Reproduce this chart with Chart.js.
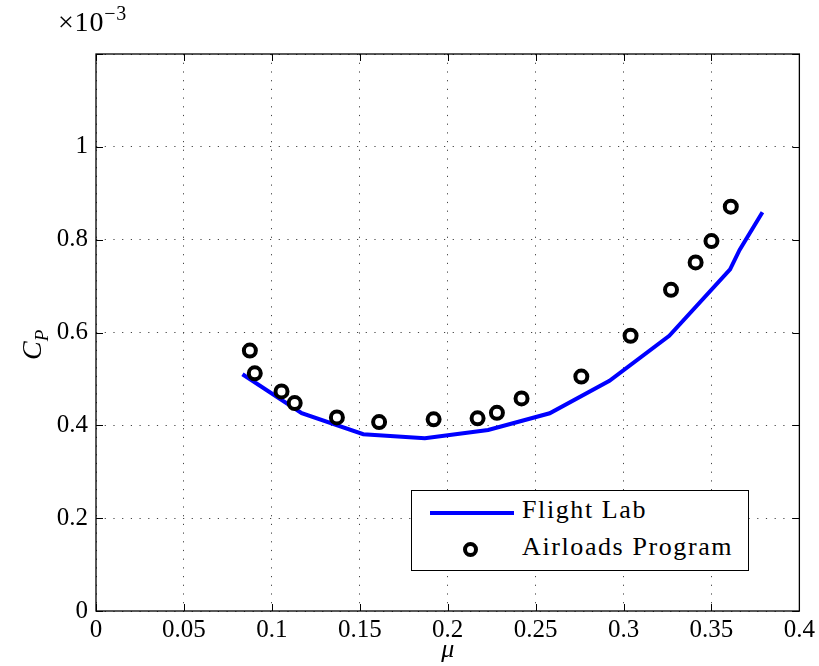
<!DOCTYPE html>
<html>
<head>
<meta charset="utf-8">
<script src="https://cdn.jsdelivr.net/npm/chart.js@4/dist/chart.umd.min.js"></script>
<style>
  html, body { margin:0; padding:0; background:#fff; }
  #wrap { position:relative; width:819px; height:666px; font-family:"Liberation Serif","DejaVu Serif",serif; color:#000; }
  #c { position:absolute; left:0; top:0; }
  #exp { position:absolute; left:58px; top:2px; font-size:28px; line-height:1.2; letter-spacing:0.8px; }
  #exp sup { font-size:20px; position:relative; top:-1px; }
  #ylab { position:absolute; left:18px; top:360px; font-size:28px; transform-origin:left top; transform:rotate(-90deg); white-space:nowrap; line-height:1; }
  #ylab sub { font-size:19px; font-style:italic; }
  #legend { position:absolute; left:411px; top:490px; width:336px; height:79px; border:1.3px solid #000; background:#fff; font-size:26px; letter-spacing:1.6px; }
  .row { position:absolute; left:0; height:32px; width:100%; }
  .ln { position:absolute; left:18px; top:17px; width:84px; height:4px; background:#0000ff; }
  .mk { position:absolute; left:51px; top:11px; width:7px; height:7px; border:4px solid #000; border-radius:50%; background:#fff; }
  .tx { position:absolute; left:110px; top:0px; line-height:32px; }
</style>
</head>
<body>
<div id="wrap">
  <canvas id="c" width="819" height="666"></canvas>
  <div id="exp">×10<sup>−3</sup></div>
  <div id="ylab"><i>C</i><sub>P</sub></div>
  <div id="legend">
    <div class="row" style="top:3px"><div class="ln"></div><div class="tx">Flight Lab</div></div>
    <div class="row" style="top:40px"><div class="mk"></div><div class="tx">Airloads Program</div></div>
  </div>
</div>
<script>
// Flight Lab curve (mu, C_P x 1e-3)
const flightMu = [0.0833, 0.117, 0.152, 0.187, 0.223, 0.258, 0.292, 0.326, 0.3606, 0.366, 0.379];
const flightCp = [0.510, 0.426, 0.381, 0.372, 0.390, 0.426, 0.496, 0.593, 0.736, 0.778, 0.859];
// Airloads Program points
const airMu = [0.0875, 0.0903, 0.1055, 0.113, 0.137, 0.161, 0.192, 0.217, 0.228, 0.242, 0.276, 0.304, 0.327, 0.341, 0.350, 0.361];
const airCp = [0.561, 0.512, 0.473, 0.448, 0.417, 0.407, 0.413, 0.415, 0.427, 0.458, 0.505, 0.593, 0.692, 0.751, 0.797, 0.871];
const xTicks = [0, 0.05, 0.1, 0.15, 0.2, 0.25, 0.3, 0.35, 0.4];
const yTicks = [0, 0.2, 0.4, 0.6, 0.8, 1, 1.2];
const yLabels = ['0', '0.2', '0.4', '0.6', '0.8', '1', ''];

const FONT = {family:'"Liberation Serif","DejaVu Serif",serif', size:25};

const boxPlugin = {
  id:'box',
  beforeDatasetsDraw(chart) {
    const {ctx, chartArea:a, scales} = chart;
    ctx.save();
    ctx.strokeStyle = '#000';
    ctx.lineWidth = 1.3;
    ctx.strokeRect(a.left, a.top, a.right - a.left, a.bottom - a.top);
    ctx.lineWidth = 1;
    const L = 7;
    xTicks.forEach(v => {
      const px = Math.round(scales.x.getPixelForValue(v)) + 0.5;
      ctx.beginPath();
      ctx.moveTo(px, a.bottom); ctx.lineTo(px, a.bottom - L);
      ctx.moveTo(px, a.top); ctx.lineTo(px, a.top + L);
      ctx.stroke();
    });
    yTicks.forEach(v => {
      const py = Math.round(scales.y.getPixelForValue(v)) + 0.5;
      ctx.beginPath();
      ctx.moveTo(a.left, py); ctx.lineTo(a.left + L, py);
      ctx.moveTo(a.right, py); ctx.lineTo(a.right - L, py);
      ctx.stroke();
    });
    ctx.restore();
  }
};

new Chart(document.getElementById('c'), {
  type:'scatter',
  data:{
    datasets:[
      {
        label:'Flight Lab',
        data: flightMu.map((m,i)=>({x:m, y:flightCp[i]})),
        showLine:true,
        borderColor:'#0000ff',
        borderWidth:4,
        pointRadius:0,
        fill:false,
        tension:0,
        order:2
      },
      {
        label:'Airloads Program',
        data: airMu.map((m,i)=>({x:m, y:airCp[i]})),
        showLine:false,
        pointRadius:6,
        pointBorderWidth:4,
        pointBorderColor:'#000',
        pointBackgroundColor:'#fff',
        order:1
      }
    ]
  },
  options:{
    responsive:false,
    animation:false,
    devicePixelRatio:1,
    layout:{padding:{left:0, right:19, top:54, bottom:0}},
    plugins:{legend:{display:false}, tooltip:{enabled:false}},
    scales:{
      x:{
        type:'linear', min:0, max:0.4,
        afterBuildTicks(s){ s.ticks = xTicks.map(v=>({value:v})); },
        afterFit(s){ s.height = 55; },
        ticks:{font:FONT, color:'#000', padding:4, maxRotation:0,
          callback:(v)=>String(+v.toFixed(2))},
        grid:{color:'#444', lineWidth:1, drawTicks:false},
        border:{display:false, dash:[1.2,7.5]},
        title:{display:true, text:'μ', font:{family:FONT.family, size:26, style:'italic'}, color:'#000', padding:{top:-6, bottom:0}}
      },
      y:{
        type:'linear', min:0, max:1.2,
        afterBuildTicks(s){ s.ticks = yTicks.map(v=>({value:v})); },
        afterFit(s){ s.width = 96; },
        ticks:{font:FONT, color:'#000', padding:8,
          callback:(v)=>{ const i = yTicks.findIndex(t=>Math.abs(t-v)<1e-9); return i>=0 ? yLabels[i] : ''; }},
        grid:{color:'#444', lineWidth:1, drawTicks:false},
        border:{display:false, dash:[1.2,7.5]}
      }
    }
  },
  plugins:[boxPlugin]
});
</script>
</body>
</html>
